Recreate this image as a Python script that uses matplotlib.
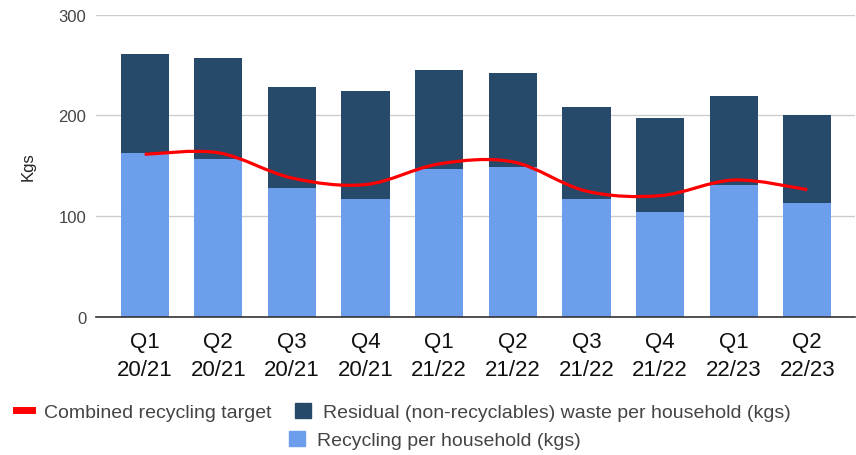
import numpy as np
import matplotlib.pyplot as plt
from matplotlib.path import Path
from matplotlib.patches import PathPatch, Patch
from matplotlib.lines import Line2D

plt.rcParams['font.family'] = ['Liberation Sans', 'DejaVu Sans']

quarters = ["Q1\n20/21", "Q2\n20/21", "Q3\n20/21", "Q4\n20/21", "Q1\n21/22",
            "Q2\n21/22", "Q3\n21/22", "Q4\n21/22", "Q1\n22/23", "Q2\n22/23"]
recycling = [162.5, 157, 128.5, 117, 147, 148.5, 117, 104.5, 131.5, 113.5]
residual = [98, 99.5, 99.5, 107.5, 98.5, 94, 91.5, 93, 88, 86.5]
target = [161.5, 163, 138, 131.5, 152, 154, 125, 120.5, 136, 126.5]

c_rec = '#6d9eeb'
c_res = '#274a6a'
c_line = '#ff0000'


def smooth_path(xs, ys, k=1.0):
    # catmull-rom style bezier, like the "function" curve in the original
    pts = np.column_stack([xs, ys]).astype(float)
    ext = np.vstack([pts[0], pts, pts[-1]])
    verts = [tuple(pts[0])]
    codes = [Path.MOVETO]
    for i in range(len(pts) - 1):
        p0, p1, p2, p3 = ext[i], ext[i + 1], ext[i + 2], ext[i + 3]
        c1 = p1 + (p2 - p0) / 6 * k
        c2 = p2 - (p3 - p1) / 6 * k
        verts += [tuple(c1), tuple(c2), tuple(p2)]
        codes += [Path.CURVE4] * 3
    return Path(verts, codes)


fig = plt.figure(figsize=(8.56, 4.56), dpi=100)
ax = fig.add_axes([0.112, 0.302, 0.887, 0.664])

x = np.arange(len(quarters))
ax.bar(x, recycling, width=0.656, color=c_rec, zorder=2)
ax.bar(x, residual, width=0.656, bottom=recycling, color=c_res, zorder=2)
ax.add_patch(PathPatch(smooth_path(x, target), fill=False, edgecolor=c_line,
                       lw=2.3, zorder=3, capstyle='butt'))

ax.set_ylim(0, 300)
ax.set_xlim(-0.663, 9.65)
ax.set_yticks([0, 100, 200, 300])
ax.set_xticks(x)
ax.set_xticklabels(quarters, fontsize=16, color='#111111', linespacing=1.4)
ax.tick_params(axis='y', labelsize=12, labelcolor='#444444', length=0, pad=7)
ax.tick_params(axis='x', length=0, pad=10)
ax.grid(axis='y', color='#cccccc', lw=1, zorder=0)
for s in ['top', 'right', 'left']:
    ax.spines[s].set_visible(False)
ax.spines['bottom'].set_color('#333333')
ax.spines['bottom'].set_linewidth(1.2)
ax.spines['bottom'].set_zorder(4)
ax.set_ylabel('Kgs', fontsize=12, color='#222222', labelpad=16)

h_line = Line2D([], [], color=c_line, lw=5)
h_res = Patch(color=c_res)
h_rec = Patch(color=c_rec)
fig.legend([h_line, h_res],
           ['Combined recycling target',
            'Residual (non-recyclables) waste per household (kgs)'],
           loc='center', bbox_to_anchor=(0.471, 0.094), ncol=2, frameon=False,
           fontsize=14, handlelength=0.85, handleheight=0.8,
           handletextpad=0.6, columnspacing=1.2, labelcolor='#444444',
           borderpad=0, borderaxespad=0)
fig.legend([h_rec], ['Recycling per household (kgs)'],
           loc='center', bbox_to_anchor=(0.508, 0.033), frameon=False,
           fontsize=14, handlelength=0.8, handleheight=0.8,
           handletextpad=0.6, labelcolor='#444444',
           borderpad=0, borderaxespad=0)

fig.savefig('out.png', dpi=100)
